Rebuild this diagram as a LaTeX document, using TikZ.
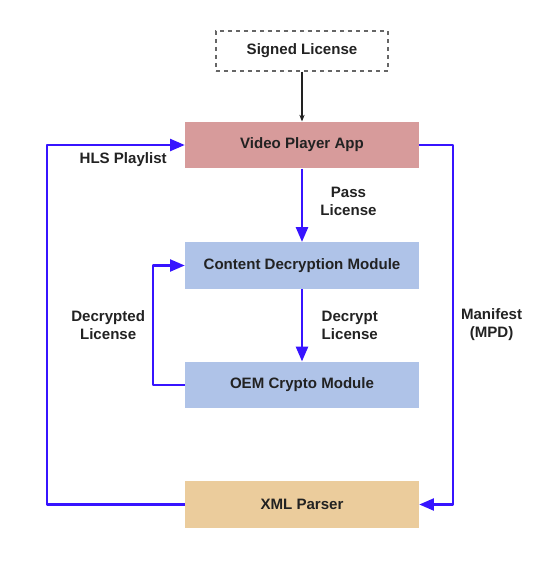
\documentclass[tikz,border=0pt]{standalone}
\usepackage{fontspec}
\setmainfont{Liberation Sans}
\usepackage{tikz}
\usetikzlibrary{arrows.meta}
\definecolor{playerred}{RGB}{215,155,155}
\definecolor{modblue}{RGB}{175,195,232}
\definecolor{parsertan}{RGB}{235,204,156}
\definecolor{flowblue}{RGB}{55,20,255}
\definecolor{txt}{RGB}{34,34,34}
\tikzstyle{box} = [minimum width=175.5pt, minimum height=35pt, inner sep=0pt, text=txt, font=\bfseries]
\tikzstyle{arrow} = [line width=0.8pt, draw=txt, -{Stealth[length=5pt,width=4pt]}]
\tikzstyle{flow} = [line width=1.6pt, draw=flowblue, -{Triangle[length=11pt,width=9pt]}]
\tikzstyle{lbl} = [text=txt, font=\bfseries, align=center, inner sep=0pt]

\begin{document}
\begin{tikzpicture}[x=0.75pt,y=-0.75pt]
\fontsize{11.3}{13.5}\selectfont
\useasboundingbox (0,0) rectangle (534,567);

% boxes
\node[box, draw=gray!80!black, dashed, line width=0.8pt, minimum width=129pt, minimum height=30pt] (signed) at (302,51) {Signed License};
\node[box, fill=playerred] (player) at (302,145) {Video Player App};
\node[box, fill=modblue] (cdm) at (302,265.5) {Content Decryption Module};
\node[box, fill=modblue] (oem) at (302,385) {OEM Crypto Module};
\node[box, fill=parsertan] (parser) at (302,504.5) {XML Parser};

% connectors
\draw[arrow] (signed) -- (player);
\draw[flow] (player) -- node[lbl, anchor=west, xshift=13pt, yshift=3pt] {Pass\\License} (cdm);
\draw[flow] (cdm) -- node[lbl, anchor=west, xshift=14pt] {Decrypt\\License} (oem);
\draw[flow, line join=round] (oem.west) -- ++(-32,0) |- node[lbl, pos=0.25, anchor=east, xshift=-5pt] {Decrypted\\License} (cdm.west);
\draw[flow, line join=round] (parser.west) -- ++(-138,0) |- node[lbl, pos=0.777, anchor=north, yshift=-5pt] {HLS Playlist} (player.west);
\draw[flow, line join=round] (player.east) -- ++(34,0) |- node[lbl, pos=0.25, anchor=west, xshift=5pt] {Manifest\\(MPD)} (parser.east);

\end{tikzpicture}
\end{document}
